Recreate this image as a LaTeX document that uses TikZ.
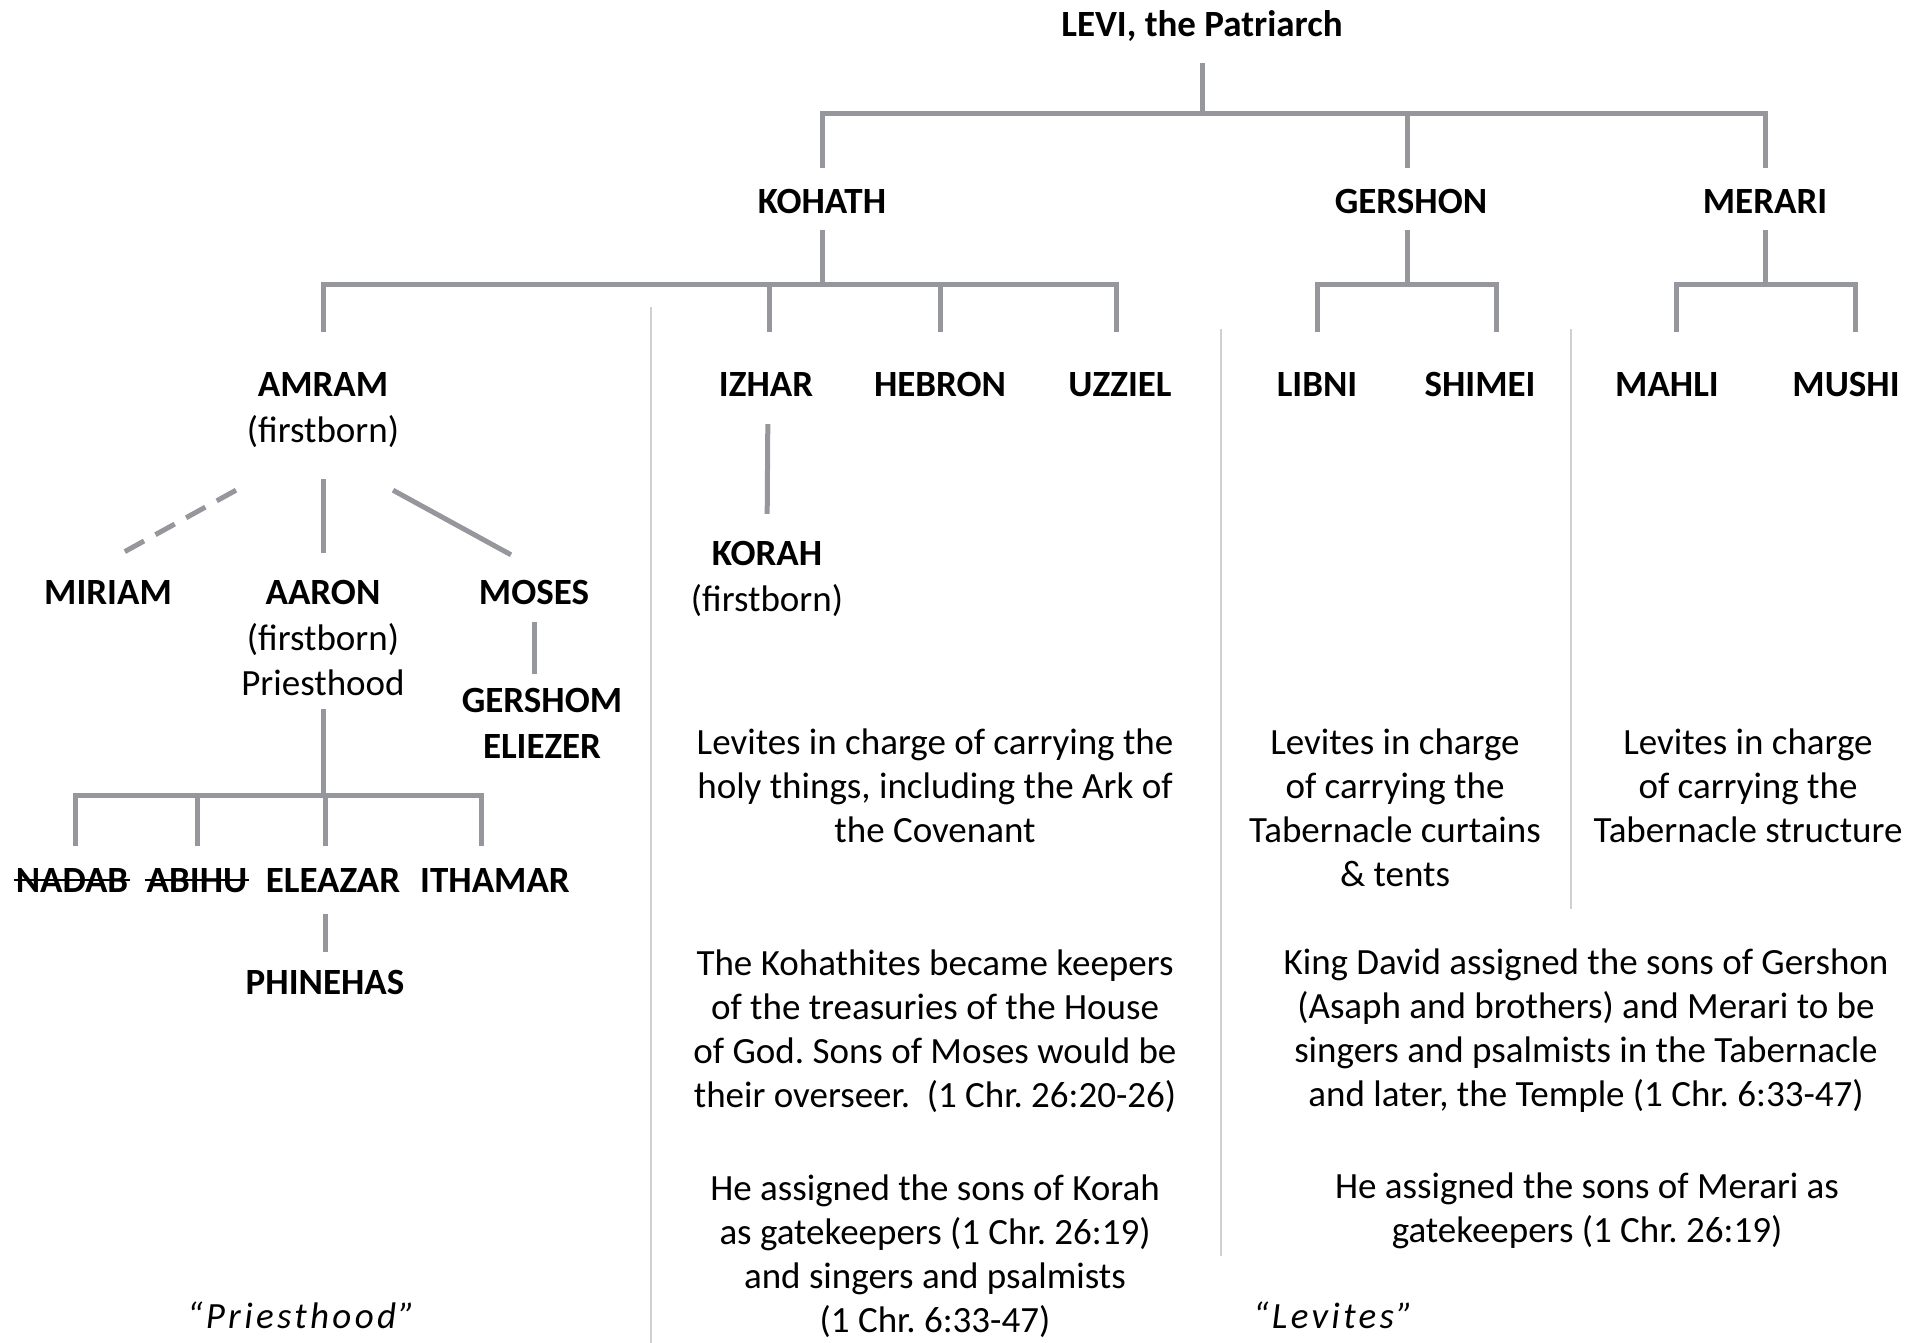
\documentclass[tikz,border=0pt]{standalone}
\usepackage{fontspec}
\setmainfont{Carlito}
\usetikzlibrary{positioning}
\definecolor{linegray}{RGB}{150,151,156}
\definecolor{sepgray}{RGB}{208,208,208}
\frenchspacing

\begin{document}
\begin{tikzpicture}[x=1pt,y=-1pt,node distance=46pt,
                    font=\fontsize{37pt}{44pt}\selectfont]
\tikzstyle{person}=[font=\fontsize{37pt}{44pt}\selectfont\bfseries,inner sep=0pt,text height=24pt,text depth=0pt]
\tikzstyle{fbnote}=[inner sep=0pt,text height=24pt,text depth=0pt]
\tikzstyle{desc}=[inner sep=0pt,align=center]
\tikzstyle{branch}=[draw=linegray,line width=5pt]
\tikzstyle{divider}=[draw=sepgray,line width=2.5pt]
\tikzstyle{tribelabel}=[font=\fontsize{37pt}{44pt}\selectfont\itshape\addfontfeature{LetterSpace=9}]

  \useasboundingbox (0,0) rectangle (1927,1343);

  % column dividers
  \draw[divider] (651,307) -- (651,1343);
  \draw[divider] (1221,329) -- (1221,1256);
  \draw[divider] (1571,329) -- (1571,909);

  % top of the tree
        \node[person]            (levi)     at (1202,25)  {LEVI, the Patriarch};
        \node[person]            (kohath)   at (822,202)  {KOHATH};
        \node[person]            (gershon)  at (1411,202) {GERSHON};
        \node[person]            (merari)   at (1765,202) {MERARI};

        \node[person]            (amram)    at (323,384)  {AMRAM};
        \node[fbnote]            (amramfb)  [below of=amram] {(firstborn)};
        \node[person]            (izhar)    at (766,384)  {IZHAR};
        \node[person]            (hebron)   at (940,384)  {HEBRON};
        \node[person]            (uzziel)   at (1120,384) {UZZIEL};
        \node[person]            (libni)    at (1317,384) {LIBNI};
        \node[person]            (shimei)   at (1480,384) {SHIMEI};
        \node[person]            (mahli)    at (1667,384) {MAHLI};
        \node[person]            (mushi)    at (1846,384) {MUSHI};

        \node[person]            (korah)    at (767,553)  {KORAH};
        \node[fbnote]            (korahfb)  [below of=korah] {(firstborn)};

  % line of Amram
        \node[person]            (miriam)   at (108,592)  {MIRIAM};
        \node[person]            (aaron)    at (323,592)  {AARON};
        \node[fbnote]            (aaronfb)  [below of=aaron] {(firstborn)};
        \node[fbnote, node distance=45pt] (aaronpr) [below of=aaronfb] {Priesthood};
        \node[person]            (moses)    at (534,592)  {MOSES};
        \node[person]            (gershom)  at (542,700)  {GERSHOM};
        \node[person]            (eliezer)  [below of=gershom] {ELIEZER};

        \node[person]            (nadab)    at (72,880)   {NADAB};
        \node[person]            (abihu)    at (197,880)  {ABIHU};
        \node[person]            (eleazar)  at (333,880)  {ELEAZAR};
        \node[person]            (ithamar)  at (495,880)  {ITHAMAR};
        \node[person]            (phinehas) at (325,982)  {PHINEHAS};

  % notes
        \node[desc] (kohathdesc)  at (935,786)  {Levites in charge of carrying the\\holy things, including the Ark of\\the Covenant};
        \node[desc] (gershondesc) at (1395,808) {Levites in charge\\of carrying the\\Tabernacle curtains\\\& tents};
        \node[desc] (meraridesc)  at (1748,786) {Levites in charge\\of carrying the\\Tabernacle structure};
        \node[desc] (keepers)     at (935,1031) {The Kohathites became keepers\\of the treasuries of the House\\of God. Sons of Moses would be\\their overseer.\ \ (1 Chr. 26:20-26)};
        \node[desc] (singers)     at (1586,1031) {King David assigned the sons of Gershon\\(Asaph and brothers) and Merari to be\\singers and psalmists in the Tabernacle\\and later, the Temple (1 Chr. 6:33-47)};
        \node[desc] (korahgate)   at (935,1256) {He assigned the sons of Korah\\as gatekeepers (1 Chr. 26:19)\\and singers and psalmists\\(1 Chr. 6:33-47)};
        \node[desc] (merarigate)  at (1587,1211) {He assigned the sons of Merari as\\gatekeepers (1 Chr. 26:19)};

        \node[tribelabel] (priests) at (301,1315) {``Priesthood''};
        \node[tribelabel] (levites) at (1333,1315) {``Levites''};

  % connectors
        \draw[branch, shorten <=26pt] (levi.south) -- (levi.south |- 0,114);
        \draw[branch, shorten <=22pt, shorten >=22pt] (kohath.north) |- (merari.north |- 0,114) -- (merari.north);
        \draw[branch, shorten <=22pt] ([xshift=-4pt]gershon.north) -- ([xshift=-4pt]gershon.north |- 0,114);

        \draw[branch, shorten <=16pt] (kohath.south) -- (kohath.south |- 0,284);
        \draw[branch, shorten <=40pt, shorten >=40pt] (amram.north) |- ([xshift=-4pt]uzziel.north |- 0,284) -- ([xshift=-4pt]uzziel.north);
        \draw[branch, shorten <=40pt] ([xshift=3pt]izhar.north) -- ([xshift=3pt]izhar.north |- 0,284);
        \draw[branch, shorten <=40pt] (hebron.north) -- (hebron.north |- 0,284);

        \draw[branch, shorten <=16pt] ([xshift=-4pt]gershon.south) -- ([xshift=-4pt]gershon.south |- 0,284);
        \draw[branch, shorten <=40pt, shorten >=40pt] (libni.north) |- ([xshift=16pt]shimei.north |- 0,284) -- ([xshift=16pt]shimei.north);
        \draw[branch, shorten <=16pt] (merari.south) -- (merari.south |- 0,284);
        \draw[branch, shorten <=40pt, shorten >=40pt] ([xshift=9pt]mahli.north) |- ([xshift=9pt]mushi.north |- 0,284) -- ([xshift=9pt]mushi.north);

        \draw[branch, shorten <=28pt, shorten >=27pt] ([xshift=2pt]izhar.south) -- (korah.north);

        \draw[branch, shorten <=37pt, shorten >=27pt] (amramfb.south) -- (aaron.north);
        \draw[branch, dash pattern=on 22pt off 13pt] ([shift={(-87,48)}]amramfb.south) -- ([shift={(11,-25)}]miriam.north);
        \draw[branch] ([shift={(70,48)}]amramfb.south) -- ([shift={(-23,-25)}]moses.north);
        \draw[branch, shorten <=18pt, shorten >=14pt] (moses.south) -- (moses.south |- gershom.north);

        \draw[branch, shorten <=14pt] (aaronpr.south) -- (aaronpr.south |- 0,795);
        \draw[branch, shorten <=22pt, shorten >=22pt] ([xshift=3pt]nadab.north) |- ([xshift=-14pt]ithamar.north |- 0,795) -- ([xshift=-14pt]ithamar.north);
        \draw[branch, shorten >=22pt] (abihu.north |- 0,795) -- (abihu.north);
        \draw[branch, shorten >=22pt] ([xshift=-8pt]eleazar.north |- 0,795) -- ([xshift=-8pt]eleazar.north);
        \draw[branch, shorten <=22pt, shorten >=18pt] (phinehas.north |- eleazar.south) -- (phinehas.north);

        % struck-out names
        \draw[line width=2pt] ([xshift=-2pt]nadab.west) -- ([xshift=2pt]nadab.east);
        \draw[line width=2pt] ([xshift=-2pt]abihu.west) -- ([xshift=2pt]abihu.east);

\end{tikzpicture}
\end{document}
